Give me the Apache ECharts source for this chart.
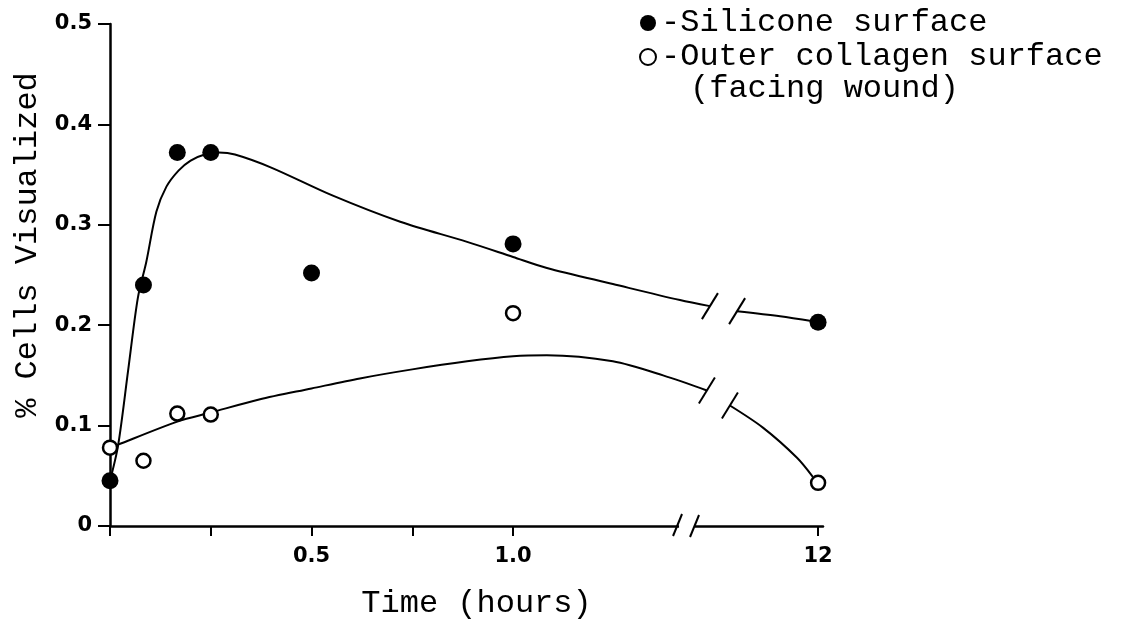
<!DOCTYPE html>
<html><head><meta charset="utf-8">
<script src="https://cdn.jsdelivr.net/npm/echarts@6/dist/echarts.min.js"></script>
<style>html,body{margin:0;padding:0;background:#fff}#c{width:1140px;height:625px}</style>
</head><body><div id="c"></div>
<script>
// ---- data (hours, % cells visualized) ----
const seriesNames = ['Silicone surface', 'Outer collagen surface'];
const legendExtra = '(facing wound)';
const siliconeTimes = [0, 0.083, 0.167, 0.25, 0.5, 1.0, 12];
const silicone = [0.045, 0.240, 0.372, 0.372, 0.252, 0.281, 0.203];
const collagenTimes = [0, 0.083, 0.167, 0.25, 1.0, 12];
const collagen = [0.078, 0.065, 0.112, 0.111, 0.212, 0.043];
// fitted curves (two segments each, split at the axis break)
const siliconeCurve1T = [0, 0.02, 0.045, 0.069, 0.09, 0.115, 0.14, 0.17, 0.2, 0.235, 0.27, 0.31, 0.4, 0.553, 0.72, 0.886, 1.0, 2.22, 4.6, 7.02, 8.1];
const siliconeCurve1V = [0.045, 0.08, 0.155, 0.227, 0.263, 0.313, 0.338, 0.354, 0.364, 0.370, 0.372, 0.370, 0.357, 0.329, 0.303, 0.283, 0.268, 0.257, 0.241, 0.225, 0.219];
const siliconeCurve2T = [9.08, 10.63, 11.81];
const siliconeCurve2V = [0.214, 0.209, 0.204];
const collagenCurve1T = [0.003, 0.02, 0.167, 0.25, 0.37, 0.5, 0.62, 0.75, 0.886, 1.0, 2.22, 4.6, 6.41, 7.99];
const collagenCurve1V = [0.078, 0.081, 0.104, 0.113, 0.126, 0.137, 0.147, 0.156, 0.164, 0.169, 0.170, 0.164, 0.150, 0.135];
const collagenCurve2T = [8.82, 10.01, 11.24, 11.81];
const collagenCurve2V = [0.120, 0.098, 0.068, 0.049];
const xTickHours = [0, 0.25, 0.5, 0.75, 1.0, 12];
const xLabelHours = [0.5, 1.0, 12];
const axisBreakHours = [7.31];

// broken time axis: linear up to 1 h, compressed beyond
const K = 0.0688;
const toPos = t => (t <= 1 ? t : 1 + (t - 1) * K);
const toHours = p => (p <= 1 ? p : 1 + (p - 1) / K);
const pairs = (ts, vs) => ts.map((t, i) => [toPos(t), vs[i]]);

const MONO = "'Liberation Mono', 'Courier New', monospace";
const SANS = "'DejaVu Sans', sans-serif";

const chart = echarts.init(document.getElementById('c'), null, {renderer: 'canvas'});

function breakMark(kind) {
  return function (params, api) {
    const p = api.coord([api.value(0), api.value(1)]);
    const ls = {stroke: '#000', lineWidth: 2};
    if (kind === 'axis') {
      return {type: 'group', children: [
        {type: 'rect', shape: {x: p[0] - 9, y: p[1] - 4, width: 16, height: 8}, style: {fill: '#fff'}},
        {type: 'line', shape: {x1: p[0] - 15, y1: p[1] + 10, x2: p[0] - 6, y2: p[1] - 12}, style: ls},
        {type: 'line', shape: {x1: p[0] + 2, y1: p[1] + 11, x2: p[0] + 11, y2: p[1] - 11}, style: ls}
      ]};
    }
    return {type: 'line', shape: {x1: p[0] - 8, y1: p[1] + 13, x2: p[0] + 8, y2: p[1] - 13}, style: ls};
  };
}

const lineStyle = {color: '#000', width: 2};
const curve = (name, data) => ({
  name, type: 'line', data, smooth: 0.3, showSymbol: false, symbol: 'none',
  lineStyle, silent: true, z: 2
});

chart.setOption({
  animation: false,
  backgroundColor: '#fff',
  grid: {left: 110, right: 317, top: 24, bottom: 96, containLabel: false},
  legend: {
    orient: 'vertical', left: 634, top: 1, itemGap: 0, itemWidth: 16, itemHeight: 16,
    data: seriesNames, selectedMode: false,
    formatter: n => '-' + n,
    textStyle: {fontFamily: MONO, fontSize: 32, lineHeight: 34, color: '#000'}
  },
  graphic: [{
    type: 'text', left: 690, top: 73,
    style: {text: legendExtra, font: '32px ' + MONO, fill: '#000'}
  }],
  xAxis: {
    type: 'value', min: 0, max: 1.769,
    name: 'Time (hours)', nameLocation: 'middle', nameGap: 62,
    nameTextStyle: {fontFamily: MONO, fontSize: 32, color: '#000', padding: [0, 0, 0, 20]},
    axisLine: {show: true, onZero: false, lineStyle: {color: '#000', width: 2.5}},
    axisTick: {show: true, length: 10, inside: false, customValues: xTickHours.map(toPos), lineStyle: {color: '#000', width: 2}},
    axisLabel: {
      customValues: xLabelHours.map(toPos), margin: 20,
      fontFamily: SANS, fontWeight: 'bold', fontSize: 21, color: '#000',
      formatter: v => { const h = Math.round(toHours(v) * 100) / 100; return h > 1.5 ? String(Math.round(h)) : h.toFixed(1); }
    },
    splitLine: {show: false}
  },
  yAxis: {
    type: 'value', min: 0, max: 0.5, interval: 0.1,
    name: '% Cells Visualized', nameLocation: 'middle', nameGap: 66,
    nameTextStyle: {fontFamily: MONO, fontSize: 32, color: '#000', padding: [0, 0, 0, 60]},
    axisLine: {show: true, lineStyle: {color: '#000', width: 2.5}},
    axisTick: {show: true, length: 12, inside: false, lineStyle: {color: '#000', width: 2}},
    axisLabel: {
      margin: 18, fontFamily: SANS, fontWeight: 'bold', fontSize: 21, color: '#000',
      formatter: v => (v === 0 ? '0' : v.toFixed(1))
    },
    splitLine: {show: false}
  },
  series: [
    curve('silicone fit a', pairs(siliconeCurve1T, siliconeCurve1V)),
    curve('silicone fit b', pairs(siliconeCurve2T, siliconeCurve2V)),
    curve('collagen fit a', pairs(collagenCurve1T, collagenCurve1V)),
    curve('collagen fit b', pairs(collagenCurve2T, collagenCurve2V)),
    {type: 'custom', name: 'axis break', renderItem: breakMark('axis'), clip: false, silent: true, z: 3,
     data: axisBreakHours.map(t => [toPos(t), 0])},
    {type: 'custom', name: 'curve breaks', renderItem: breakMark('curve'), clip: false, silent: true, z: 3,
     data: [
       [toPos(siliconeCurve1T[siliconeCurve1T.length - 1]), siliconeCurve1V[siliconeCurve1V.length - 1]],
       [toPos(siliconeCurve2T[0]), siliconeCurve2V[0]],
       [toPos(collagenCurve1T[collagenCurve1T.length - 1]), collagenCurve1V[collagenCurve1V.length - 1]],
       [toPos(collagenCurve2T[0]), collagenCurve2V[0]]
     ]},
    {name: seriesNames[0], type: 'scatter', symbol: 'circle', symbolSize: 17, z: 5,
     itemStyle: {color: '#000', opacity: 1}, data: pairs(siliconeTimes, silicone)},
    {name: seriesNames[1], type: 'scatter', symbol: 'circle', symbolSize: 14, z: 5,
     itemStyle: {color: '#fff', borderColor: '#000', borderWidth: 2.5, opacity: 1}, data: pairs(collagenTimes, collagen)}
  ]
});
</script></body></html>
